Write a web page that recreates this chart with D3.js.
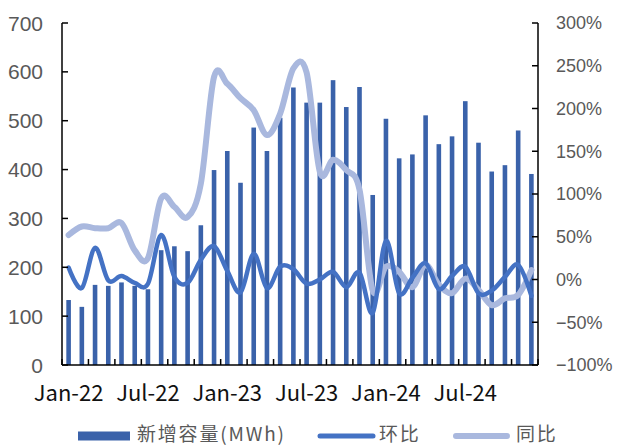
<!DOCTYPE html>
<html><head><meta charset="utf-8">
<script src="https://cdn.jsdelivr.net/npm/d3@7"></script>
<style>body{margin:0;background:#fff;} svg{display:block;}</style>
</head><body>
<svg id="c" width="619" height="446"></svg>
<script>
const months = ["Jan-22","Feb-22","Mar-22","Apr-22","May-22","Jun-22","Jul-22","Aug-22","Sep-22","Oct-22","Nov-22","Dec-22",
"Jan-23","Feb-23","Mar-23","Apr-23","May-23","Jun-23","Jul-23","Aug-23","Sep-23","Oct-23","Nov-23","Dec-23",
"Jan-24","Feb-24","Mar-24","Apr-24","May-24","Jun-24","Jul-24","Aug-24","Sep-24","Oct-24","Nov-24","Dec-24"];
const capacity = [133,119,164,162,169,162,155,235,243,233,286,399,
438,373,486,438,506,568,537,537,583,528,569,348,
504,423,431,511,452,468,540,455,396,409,480,391];
const mom = [14,-10,37,-1,4,-4,-5,52,3,-4,23,39,
10,-15,30,-10,15,12,-5,0,9,-9,8,-39,
45,-16,2,19,-11,4,15,-16,-13,3,17,-19];
const yoy = [52,62,60,60,66,34,25,95,85,73,112,237,
229,212,198,169,194,247,242,126,140,128,105,-13,
15,9,-9,17,-6,-16,1,-12,-30,-22,-18,11];
const leftTicks = [0,100,200,300,400,500,600,700];
const rightTicks = [-100,-50,0,50,100,150,200,250,300];
const xLabelIdx = [0,6,12,18,24,30];
const legendNames = ["新增容量(MWh)","环比","同比"];

const svg = d3.select("#c");
const L = 62, R = 538, T = 23, B = 365;
const x = d3.scaleBand().domain(d3.range(months.length)).range([L, R]).paddingInner(0).paddingOuter(0);
const yL = d3.scaleLinear().domain([0,700]).range([B,T]);
const yR = d3.scaleLinear().domain([-100,300]).range([B,T]);
const barW = 4.6;
const cBar = "#3A62AA", cMom = "#4472C4", cYoy = "#A9B8DE";

// bars
svg.append("g").selectAll("rect").data(capacity).join("rect")
  .attr("x", (d,i)=> x(i)+x.bandwidth()/2 - barW/2)
  .attr("y", d=> yL(d)).attr("width", barW).attr("height", d=> B - yL(d))
  .attr("fill", cBar);

const curve = d3.curveCardinal.tension(0);
const lineR = d3.line().x((d,i)=> x(i)+x.bandwidth()/2).y(d=> yR(d)).curve(curve);
svg.append("path").attr("d", lineR(yoy)).attr("fill","none").attr("stroke",cYoy).attr("stroke-width",6).attr("stroke-linejoin","round").attr("stroke-linecap","round");
svg.append("path").attr("d", lineR(mom)).attr("fill","none").attr("stroke",cMom).attr("stroke-width",4.5).attr("stroke-linejoin","round").attr("stroke-linecap","round");

// axes
const ax = svg.append("g").attr("stroke","#000").attr("stroke-width",1.5).attr("fill","none");
ax.append("line").attr("x1",L).attr("x2",L).attr("y1",T).attr("y2",B);
ax.append("line").attr("x1",R).attr("x2",R).attr("y1",T).attr("y2",B);
ax.append("line").attr("x1",L).attr("x2",R).attr("y1",B).attr("y2",B);
leftTicks.forEach(t=> ax.append("line").attr("x1",L).attr("x2",L+6).attr("y1",yL(t)).attr("y2",yL(t)));
rightTicks.forEach(t=> ax.append("line").attr("x1",R-6).attr("x2",R).attr("y1",yR(t)).attr("y2",yR(t)));
d3.range(0, months.length+1, 2).forEach(i=>{
  const xx = i < months.length ? x(i) : R;
  ax.append("line").attr("x1",xx).attr("x2",xx).attr("y1",B).attr("y2",B-6);
});

const tf = "'Liberation Sans', Arial, sans-serif";
svg.append("g").selectAll("text").data(leftTicks).join("text")
  .attr("x", 43).attr("y", d=> yL(d)).attr("dy","0.36em").attr("text-anchor","end")
  .attr("font-family", tf).attr("font-size", 21).attr("fill","#595959").text(d=> d);
svg.append("g").selectAll("text").data(rightTicks).join("text")
  .attr("x", 556).attr("y", d=> yR(d)).attr("dy","0.36em").attr("text-anchor","start")
  .attr("font-family", tf).attr("font-size", 18).attr("fill","#595959").text(d=> (d<0? "\u2212"+(-d) : d) + "%");

svg.append("g").selectAll("text").data(xLabelIdx).join("text")
  .attr("x", i=> x(i)+x.bandwidth()/2).attr("y", 401).attr("text-anchor","middle")
  .attr("font-family","'Noto Sans CJK SC', sans-serif").attr("font-size", 22).attr("fill","#111")
  .text(i=> months[i]);

// legend
const lg = svg.append("g").attr("font-family","'Noto Sans CJK SC', sans-serif").attr("font-size",19).attr("letter-spacing","1.8px").attr("fill","#595959");
lg.append("rect").attr("x",78).attr("y",431.5).attr("width",52).attr("height",9).attr("fill",cBar);
lg.append("text").attr("x",137).attr("y",440.5).text(legendNames[0]);
lg.append("line").attr("x1",320).attr("x2",373).attr("y1",436).attr("y2",436).attr("stroke",cMom).attr("stroke-width",5).attr("stroke-linecap","round");
lg.append("text").attr("x",379).attr("y",440.5).text(legendNames[1]);
lg.append("line").attr("x1",456).attr("x2",507).attr("y1",436).attr("y2",436).attr("stroke",cYoy).attr("stroke-width",6).attr("stroke-linecap","round");
lg.append("text").attr("x",516).attr("y",440.5).text(legendNames[2]);
</script>
</body></html>
